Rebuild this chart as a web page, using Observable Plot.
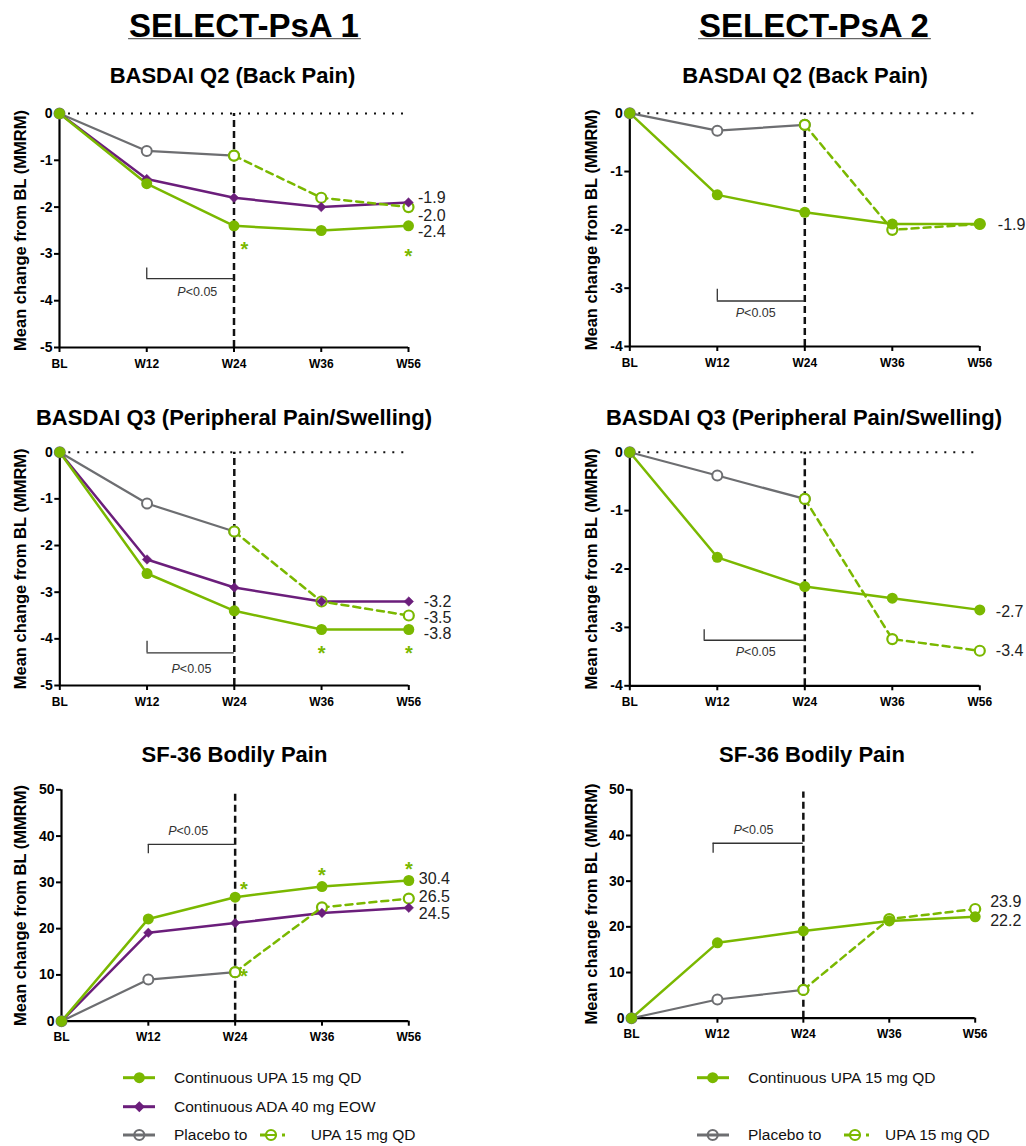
<!DOCTYPE html>
<html><head><meta charset="utf-8">
<script src="https://cdn.jsdelivr.net/npm/d3@7"></script>
<script src="https://cdn.jsdelivr.net/npm/@observablehq/plot@0.6"></script>
<style>
body{margin:0;background:#fff;font-family:"Liberation Sans",Arial,sans-serif;}
#root{position:relative;width:1026px;height:1146px;overflow:hidden;background:#fff;}
.pw{position:absolute;}
.pw svg{overflow:visible;max-width:none;}
</style></head>
<body><div id="root"></div>
<script>
const weeks = ["BL","W12","W24","W36","W56"];

// SELECT-PsA 1 — BASDAI Q2 (Back Pain)
const p1q2Upa = [0, -1.5, -2.4, -2.5, -2.4];
const p1q2Ada = [0, -1.4, -1.8, -2.0, -1.9];
const p1q2Pbo = [0, -0.8, -0.9];            // BL, W12, W24
const p1q2PboUpa = [-0.9, -1.8, -2.0];      // W24, W36, W56
const p1q2Labels = ["-1.9", "-2.0", "-2.4"];
const p1q2LabelY = [-1.81, -2.18, -2.54];
const p1q2Stars = [[2.12, -2.8], [4, -2.96]];
const p1q2Bracket = [1, 2, -3.3, -3.53, 1.58, -3.82];

// SELECT-PsA 2 — BASDAI Q2 (Back Pain)
const p2q2Upa = [0, -1.4, -1.7, -1.9, -1.9];
const p2q2Pbo = [0, -0.3, -0.2];
const p2q2PboUpa = [-0.2, -2.0, -1.9];
const p2q2Labels = ["-1.9"];
const p2q2LabelY = [-1.91];
const p2q2Stars = [];
const p2q2Bracket = [1, 2, -3.02, -3.22, 1.44, -3.42];

// SELECT-PsA 1 — BASDAI Q3 (Peripheral Pain/Swelling)
const p1q3Upa = [0, -2.6, -3.4, -3.8, -3.8];
const p1q3Ada = [0, -2.3, -2.9, -3.2, -3.2];
const p1q3Pbo = [0, -1.1, -1.7];
const p1q3PboUpa = [-1.7, -3.2, -3.5];
const p1q3Labels = ["-3.2", "-3.5", "-3.8"];
const p1q3LabelY = [-3.2, -3.54, -3.89];
const p1q3Stars = [[3, -4.21], [4, -4.21]];
const p1q3Bracket = [1, 2, -4.05, -4.3, 1.51, -4.64];

// SELECT-PsA 2 — BASDAI Q3 (Peripheral Pain/Swelling)
const p2q3Upa = [0, -1.8, -2.3, -2.5, -2.7];
const p2q3Pbo = [0, -0.4, -0.8];
const p2q3PboUpa = [-0.8, -3.2, -3.4];
const p2q3Labels = ["-2.7", "-3.4"];
const p2q3LabelY = [-2.73, -3.41];
const p2q3Stars = [];
const p2q3Bracket = [0.85, 2, -3.04, -3.22, 1.44, -3.42];

// SELECT-PsA 1 — SF-36 Bodily Pain
const p1sfUpa = [0, 22.1, 26.8, 29.1, 30.4];
const p1sfAda = [0, 19.1, 21.2, 23.4, 24.5];
const p1sfPbo = [0, 9.0, 10.6];
const p1sfPboUpa = [10.6, 24.6, 26.5];
const p1sfLabels = ["30.4", "26.5", "24.5"];
const p1sfLabelY = [30.8, 26.9, 23.1];
const p1sfStars = [[2.1, 29.5], [3, 32.6], [4, 33.9], [2.1, 10.8]];
const p1sfBracket = [1, 2, 36.2, 38.2, 1.46, 41.1];

// SELECT-PsA 2 — SF-36 Bodily Pain
const p2sfUpa = [0, 16.5, 19.1, 21.3, 22.2];
const p2sfPbo = [0, 4.1, 6.2];
const p2sfPboUpa = [6.2, 21.7, 23.9];
const p2sfLabels = ["23.9", "22.2"];
const p2sfLabelY = [25.4, 21.4];
const p2sfStars = [];
const p2sfBracket = [0.95, 2, 36.1, 38.3, 1.42, 41.3];

const basdaiTicks5 = [-5, -4, -3, -2, -1, 0];
const basdaiTicks4 = [-4, -3, -2, -1, 0];
const sfTicks = [0, 10, 20, 30, 40, 50];

const G = "#7AB800", PU = "#6B1E7B", GR = "#6D6E71", INK = "#111";
const FONT = "Liberation Sans, Arial, sans-serif";
const root = document.getElementById("root");

function panel(c) {
  const upaD = c.upa.map((v, i) => ({i, v}));
  const adaD = c.ada ? c.ada.map((v, i) => ({i, v})) : [];
  const pboD = c.pbo.map((v, i) => ({i, v}));
  const swD = c.pboUpa.map((v, k) => ({i: k + 2, v}));
  const labD = c.labels.map((t, k) => ({t, y: c.labelY[k]}));
  const [ymin, ymax] = c.yDomain;
  const [bx1, bx2, by1, by2, tx, ty] = c.bracket;
  const marks = [];
  if (c.zeroLine) marks.push(Plot.ruleY([0], {x1: 0, x2: 4, stroke: INK, strokeWidth: 2, strokeDasharray: "2,7"}));
  marks.push(Plot.ruleX([2], {y1: ymin, y2: c.vTop, stroke: INK, strokeWidth: 2.5, strokeDasharray: "7,4"}));
  // significance bracket
  marks.push(Plot.ruleX([bx1], {y1: by1, y2: by2, stroke: "#333", strokeWidth: 1.3}));
  marks.push(Plot.ruleY([by2], {x1: bx1, x2: bx2, stroke: "#333", strokeWidth: 1.3}));
  marks.push(Plot.text(["P"], {x: tx, y: ty, dx: -11.7, textAnchor: "end", fontStyle: "italic", fontSize: 12.5, fill: "#333"}));
  marks.push(Plot.text(["<0.05"], {x: tx, y: ty, dx: -11.7, textAnchor: "start", fontSize: 12.5, fill: "#333"}));
  // axes
  marks.push(Plot.ruleX([0], {y1: ymin, y2: ymax, stroke: "#000", strokeWidth: 2.2}));
  marks.push(Plot.ruleY([ymin], {x1: 0, x2: 4, stroke: "#000", strokeWidth: 2.2}));
  marks.push(Plot.axisY(c.yTicks, {tickSize: 5, tickPadding: 2, fontSize: 14, fontWeight: "bold", strokeWidth: 2, tickFormat: d => String(d), label: null}));
  marks.push(Plot.axisX([0, 1, 2, 3, 4], {tickSize: 5, tickPadding: 6.5, fontSize: 12, fontWeight: "bold", strokeWidth: 2, tickFormat: i => weeks[i], label: null}));
  marks.push(Plot.text(["Mean change from BL (MMRM)"], {frameAnchor: "left", textAnchor: "middle", rotate: -90, dx: c.labelDx, fontSize: 16.5, fontWeight: "bold", fill: "#000"}));
  // series lines
  marks.push(Plot.line(pboD, {x: "i", y: "v", stroke: GR, strokeWidth: 2.2}));
  if (c.ada) marks.push(Plot.line(adaD, {x: "i", y: "v", stroke: PU, strokeWidth: 2.5}));
  marks.push(Plot.line(upaD, {x: "i", y: "v", stroke: G, strokeWidth: 2.5}));
  marks.push(Plot.line(swD, {x: "i", y: "v", stroke: G, strokeWidth: 2.5, strokeDasharray: "7,5"}));
  // points
  marks.push(Plot.dot(pboD, {x: "i", y: "v", r: 5, fill: "#fff", stroke: GR, strokeWidth: 2}));
  marks.push(Plot.dot(swD, {x: "i", y: "v", r: 5, fill: "#fff", stroke: G, strokeWidth: 2.2}));
  if (c.ada) marks.push(Plot.dot(adaD, {x: "i", y: "v", symbol: "diamond2", r: 4.3, fill: PU, stroke: PU, strokeWidth: 0.5}));
  marks.push(Plot.dot(upaD, {x: "i", y: "v", r: 5.5, fill: G}));
  // end value labels and significance stars
  marks.push(Plot.text(labD, {x: 4, y: "y", text: "t", dx: c.endDx, textAnchor: "start", fontSize: 16, fill: "#222"}));
  marks.push(Plot.text(c.stars, {x: d => d[0], y: d => d[1], text: () => "*", fill: G, fontSize: 20, fontWeight: "bold", dy: 5}));

  const plot = Plot.plot({
    width: c.w, height: c.h,
    marginTop: c.m[0], marginRight: c.m[1], marginBottom: c.m[2], marginLeft: c.m[3],
    x: {type: "linear", domain: [0, 4]},
    y: {type: "linear", domain: c.yDomain},
    style: {fontFamily: FONT, color: "#000", background: "transparent", overflow: "visible"},
    marks
  });
  const wrap = document.createElement("div");
  wrap.className = "pw";
  wrap.style.left = c.left + "px";
  wrap.style.top = c.top + "px";
  wrap.style.width = c.w + "px";
  wrap.style.height = c.h + "px";
  wrap.appendChild(plot);
  root.appendChild(wrap);
}

panel({left: 0, top: 95, w: 455, h: 280, m: [18, 47, 28, 59], yDomain: [-5, 0], yTicks: basdaiTicks5, vTop: 0, zeroLine: true,
  upa: p1q2Upa, ada: p1q2Ada, pbo: p1q2Pbo, pboUpa: p1q2PboUpa, labels: p1q2Labels, labelY: p1q2LabelY, stars: p1q2Stars, bracket: p1q2Bracket, labelDx: -39, endDx: 9.5});
panel({left: 540, top: 95, w: 480, h: 280, m: [17.7, 40.7, 29, 89.3], yDomain: [-4, 0], yTicks: basdaiTicks4, vTop: 0, zeroLine: true,
  upa: p2q2Upa, ada: null, pbo: p2q2Pbo, pboUpa: p2q2PboUpa, labels: p2q2Labels, labelY: p2q2LabelY, stars: p2q2Stars, bracket: p2q2Bracket, labelDx: -37.6, endDx: 18});
panel({left: 0, top: 434, w: 455, h: 280, m: [17.7, 46.7, 29, 59.3], yDomain: [-5, 0], yTicks: basdaiTicks5, vTop: 0, zeroLine: true,
  upa: p1q3Upa, ada: p1q3Ada, pbo: p1q3Pbo, pboUpa: p1q3PboUpa, labels: p1q3Labels, labelY: p1q3LabelY, stars: p1q3Stars, bracket: p1q3Bracket, labelDx: -39.3, endDx: 15});
panel({left: 540, top: 434, w: 480, h: 280, m: [17.7, 40.7, 28.7, 89.3], yDomain: [-4, 0], yTicks: basdaiTicks4, vTop: 0, zeroLine: true,
  upa: p2q3Upa, ada: null, pbo: p2q3Pbo, pboUpa: p2q3PboUpa, labels: p2q3Labels, labelY: p2q3LabelY, stars: p2q3Stars, bracket: p2q3Bracket, labelDx: -37.6, endDx: 16});
panel({left: 0, top: 775, w: 455, h: 275, m: [14.3, 46.7, 29.3, 61], yDomain: [0, 50], yTicks: sfTicks, vTop: 49.5, zeroLine: false,
  upa: p1sfUpa, ada: p1sfAda, pbo: p1sfPbo, pboUpa: p1sfPboUpa, labels: p1sfLabels, labelY: p1sfLabelY, stars: p1sfStars, bracket: p1sfBracket, labelDx: -41, endDx: 10});
panel({left: 540, top: 775, w: 480, h: 275, m: [14.3, 45.3, 32.3, 91], yDomain: [0, 50], yTicks: sfTicks, vTop: 49.5, zeroLine: false,
  upa: p2sfUpa, ada: null, pbo: p2sfPbo, pboUpa: p2sfPboUpa, labels: p2sfLabels, labelY: p2sfLabelY, stars: p2sfStars, bracket: p2sfBracket, labelDx: -39.3, endDx: 15});

// Titles and legends
const ov = d3.select(root).append("svg").attr("width", 1026).attr("height", 1146)
  .style("position", "absolute").style("left", "0px").style("top", "0px").style("pointer-events", "none")
  .style("font-family", FONT);

function title(x, y, txt, size, underline) {
  const t = ov.append("text").attr("x", x).attr("y", y).attr("text-anchor", "middle")
    .attr("font-size", size).attr("font-weight", "bold").attr("fill", "#000").text(txt);
  if (underline) {
    const w = t.node().getComputedTextLength();
    ov.append("line").attr("x1", x - w / 2 - 1).attr("x2", x + w / 2 + 2).attr("y1", y + 2.2).attr("y2", y + 2.2)
      .attr("stroke", "#666").attr("stroke-width", 1.3);
  }
}
title(244, 36.5, "SELECT-PsA 1", 33, true);
title(814, 36.5, "SELECT-PsA 2", 33, true);
title(232.5, 83, "BASDAI Q2 (Back Pain)", 22, false);
title(805, 83, "BASDAI Q2 (Back Pain)", 22, false);
title(234, 425, "BASDAI Q3 (Peripheral Pain/Swelling)", 22, false);
title(804, 425, "BASDAI Q3 (Peripheral Pain/Swelling)", 22, false);
title(234.5, 762, "SF-36 Bodily Pain", 22, false);
title(812, 762, "SF-36 Bodily Pain", 22, false);

const legendItems = ["Continuous UPA 15 mg QD", "Continuous ADA 40 mg EOW", "Placebo to", "UPA 15 mg QD"];

function legSym(x1, x2, cx, y, color, kind) {
  ov.append("line").attr("x1", x1).attr("x2", x2).attr("y1", y).attr("y2", y).attr("stroke", color).attr("stroke-width", 3);
  if (kind === "dot") ov.append("circle").attr("cx", cx).attr("cy", y).attr("r", 5.5).attr("fill", color);
  if (kind === "open") ov.append("circle").attr("cx", cx).attr("cy", y).attr("r", 5).attr("fill", "none").attr("stroke", color).attr("stroke-width", 2.2);
  if (kind === "diamond") ov.append("path").attr("d", `M${cx},${y - 5.5}L${cx + 5.5},${y}L${cx},${y + 5.5}L${cx - 5.5},${y}Z`).attr("fill", color);
}
function legSwitch(x, y) {
  ov.append("line").attr("x1", x - 11).attr("x2", x - 5).attr("y1", y).attr("y2", y).attr("stroke", G).attr("stroke-width", 3);
  ov.append("line").attr("x1", x - 5).attr("x2", x + 5).attr("y1", y).attr("y2", y).attr("stroke", G).attr("stroke-width", 2);
  ov.append("circle").attr("cx", x).attr("cy", y).attr("r", 5).attr("fill", "none").attr("stroke", G).attr("stroke-width", 2.2);
  ov.append("line").attr("x1", x + 11).attr("x2", x + 14).attr("y1", y).attr("y2", y).attr("stroke", G).attr("stroke-width", 3);
}
function legText(x, y, txt) {
  ov.append("text").attr("x", x).attr("y", y + 5.3).attr("font-size", 15.5).attr("fill", "#111").text(txt);
}
// left legend
legSym(123, 155, 139.3, 1077.7, G, "dot");   legText(174, 1077.7, legendItems[0]);
legSym(123, 155, 139.3, 1106.7, PU, "diamond"); legText(174, 1106.7, legendItems[1]);
legSym(123, 155, 139.3, 1135, GR, "open");  legText(174, 1135, legendItems[2]);
legSwitch(271, 1135); legText(310.7, 1135, legendItems[3]);
// right legend
legSym(697, 729, 712.7, 1077.7, G, "dot");   legText(748, 1077.7, legendItems[0]);
legSym(697, 729, 712.7, 1135, GR, "open");  legText(748, 1135, legendItems[2]);
legSwitch(855, 1135); legText(885, 1135, legendItems[3]);
</script>
</body></html>
